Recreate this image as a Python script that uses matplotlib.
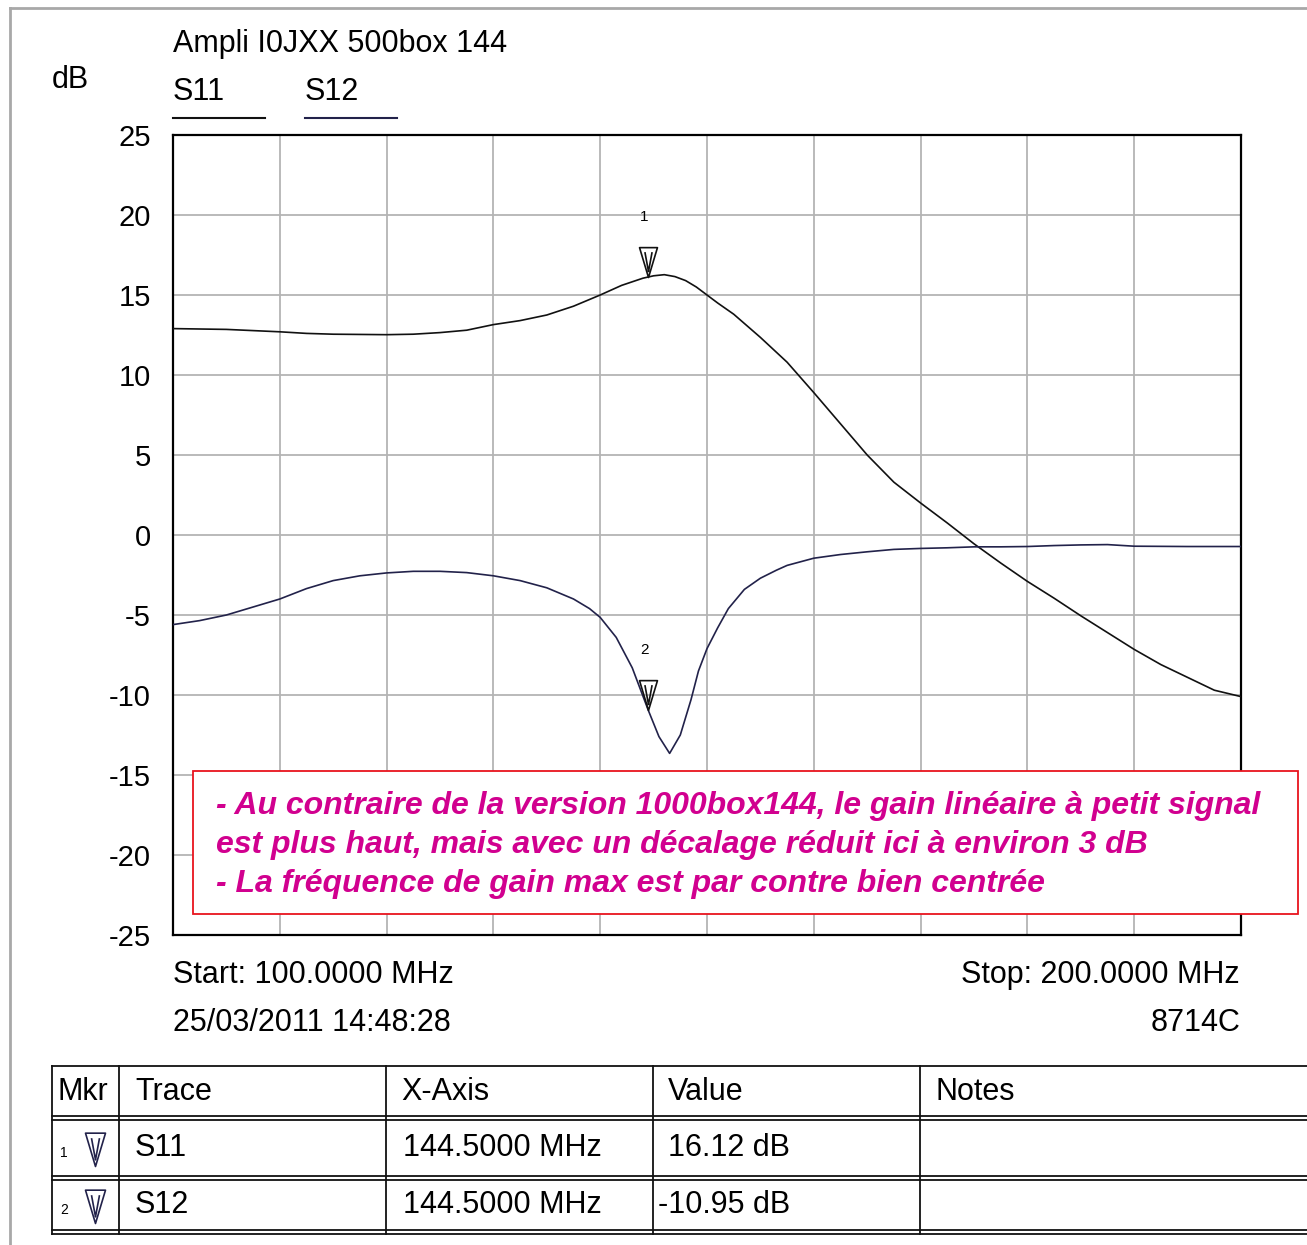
import matplotlib
matplotlib.use("Agg")
import matplotlib.pyplot as plt
from matplotlib.patches import Rectangle
from matplotlib.lines import Line2D
from matplotlib.path import Path

W, H = 1307, 1245

# S11 trace (dB)
freq_s11 = [100, 105, 110, 112.5, 115, 120, 122.5, 125, 127.5, 130, 132.5, 135,
            137.5, 140, 142, 144, 145, 146, 147, 148, 149, 150, 151, 152.5, 155,
            157.5, 160, 162.5, 165, 167.5, 170, 172.5, 175, 177.5, 180, 182.5,
            185, 187.5, 190, 192.5, 195, 197.5, 200]
s11_db = [12.9, 12.85, 12.7, 12.6, 12.55, 12.52, 12.55, 12.65, 12.8, 13.15, 13.4,
          13.75, 14.3, 15.0, 15.6, 16.05, 16.2, 16.27, 16.15, 15.9, 15.5, 15.0,
          14.5, 13.8, 12.35, 10.8, 8.9, 6.95, 5.0, 3.3, 2.0, 0.75, -0.55, -1.75,
          -2.9, -3.95, -5.05, -6.1, -7.15, -8.1, -8.9, -9.7, -10.1]

# S12 trace (dB)
freq_s12 = [100, 102.5, 105, 107.5, 110, 112.5, 115, 117.5, 120, 122.5, 125, 127.5,
            130, 132.5, 135, 137.5, 139, 140, 141.5, 143, 144.5, 145.5, 146.5,
            147.5, 148.5, 149.2, 150, 151, 152, 153.5, 155, 156.5, 157.5, 160,
            162.5, 165, 167.5, 170, 172.5, 175, 177.5, 180, 182.5, 185, 187.5,
            190, 195, 200]
s12_db = [-5.6, -5.35, -5.0, -4.5, -4.0, -3.35, -2.85, -2.55, -2.37, -2.27, -2.27,
          -2.35, -2.55, -2.85, -3.3, -4.0, -4.6, -5.15, -6.4, -8.3, -10.95, -12.6,
          -13.65, -12.5, -10.3, -8.5, -7.1, -5.8, -4.6, -3.4, -2.7, -2.2, -1.9,
          -1.45, -1.22, -1.05, -0.9, -0.84, -0.8, -0.74, -0.74, -0.72, -0.66,
          -0.62, -0.6, -0.7, -0.72, -0.72]

marker_ids = ["1", "2"]
marker_traces = ["S11", "S12"]
marker_freq = [144.5, 144.5]
marker_db = [16.12, -10.95]

y_ticks = [25, 20, 15, 10, 5, 0, -5, -10, -15, -20, -25]
x_grid = [100, 110, 120, 130, 140, 150, 160, 170, 180, 190, 200]

table_header = ["Mkr", "Trace", "X-Axis", "Value", "Notes"]

note_lines = [
    "- Au contraire de la version 1000box144, le gain linéaire à petit signal",
    "est plus haut, mais avec un décalage réduit ici à environ 3 dB",
    "- La fréquence de gain max est par contre bien centrée",
]

plt.rcParams["font.family"] = ["Liberation Sans", "DejaVu Sans"]
FS = 22


def fx(x):
    return x / W


def fy(y):
    return 1 - y / H


fig = plt.figure(figsize=(W / 100, H / 100), dpi=100)
fig.patch.set_facecolor("white")

# outer window frame
fig.add_artist(Line2D([fx(10), fx(W)], [fy(8), fy(8)], color="#a8a8a8", lw=2))
fig.add_artist(Line2D([fx(10), fx(10)], [fy(8), fy(H)], color="#a8a8a8", lw=2))

ax = fig.add_axes([fx(173), fy(935), 1068 / W, 800 / H])
ax.set_xlim(100, 200)
ax.set_ylim(-25, 25)
ax.set_xticks(x_grid)
ax.set_xticklabels([])
ax.set_yticks(y_ticks)
ax.set_yticklabels([str(t) for t in y_ticks], fontsize=21)
ax.tick_params(length=0, pad=16)
ax.grid(True, color="#b4b4b4", lw=1.3)
for sp in ax.spines.values():
    sp.set_linewidth(1.6)
    sp.set_color("black")

ax.plot(freq_s11, s11_db, color="#111111", lw=1.2, zorder=3)
ax.plot(freq_s12, s12_db, color="#22224a", lw=1.2, zorder=3)

# marker glyph: tip at the data point, open triangle above it
tri = Path([(-0.3, 1.0), (0.3, 1.0), (0.0, 0.0), (-0.3, 1.0),
            (-0.12, 0.85), (0.0, 0.2), (0.12, 0.85)],
           [Path.MOVETO, Path.LINETO, Path.LINETO, Path.CLOSEPOLY,
            Path.MOVETO, Path.LINETO, Path.LINETO])
for mid, f, v in zip(marker_ids, marker_freq, marker_db):
    ax.plot([f], [v], marker=tri, markersize=43, mfc="none", mec="#111111",
            mew=1.2, zorder=4)
    ax.annotate(mid, (f, v), xytext=(-3, 43), textcoords="offset points",
                ha="center", va="center", fontsize=11)

# header texts
fig.text(fx(173), fy(44), "Ampli I0JXX 500box 144", fontsize=FS, va="center")
fig.text(fx(52), fy(80), "dB", fontsize=FS, va="center")
fig.text(fx(173), fy(92), marker_traces[0], fontsize=FS, va="center")
fig.text(fx(305), fy(92), marker_traces[1], fontsize=FS, va="center")
fig.add_artist(Line2D([fx(173), fx(265)], [fy(118), fy(118)], color="#111111", lw=1.5))
fig.add_artist(Line2D([fx(305), fx(397)], [fy(118), fy(118)], color="#22224a", lw=1.5))

fig.text(fx(173), fy(975), f"Start: {x_grid[0]:.4f} MHz", fontsize=FS, va="center")
fig.text(fx(173), fy(1023), "25/03/2011 14:48:28", fontsize=FS, va="center")
fig.text(fx(1240), fy(975), f"Stop: {x_grid[-1]:.4f} MHz", fontsize=FS,
         va="center", ha="right")
fig.text(fx(1240), fy(1023), "8714C", fontsize=FS, va="center", ha="right")

# comment box
box = Rectangle((fx(193), fy(914)), (1298 - 193) / W, (914 - 771) / H,
                transform=fig.transFigure, facecolor="white", edgecolor="#e8141e",
                lw=1.3, zorder=5)
fig.add_artist(box)
for i, line in enumerate(note_lines):
    fig.text(fx(216), fy(806 + 39 * i), line, fontsize=23, fontweight="bold",
             fontstyle="italic", color="#d1008f", va="center", zorder=6)

# marker table
lc = "#111111"
for y in [1066, 1116, 1120, 1176, 1180, 1230, 1234]:
    fig.add_artist(Line2D([fx(52), fx(W)], [fy(y), fy(y)], color=lc, lw=1.3))
for x in [52, 119, 386, 653, 920]:
    fig.add_artist(Line2D([fx(x), fx(x)], [fy(1066), fy(1234)], color=lc, lw=1.3))

col_x = [57, 135, 401, 668, 935]
for cx, txt in zip(col_x, table_header):
    fig.text(fx(cx), fy(1092), txt, fontsize=FS, va="center")

row_y = [1148, 1205]
for ry, mid, tr, f, v in zip(row_y, marker_ids, marker_traces, marker_freq, marker_db):
    fig.text(fx(60), fy(ry + 5), mid, fontsize=10, va="center")
    fig.add_artist(Line2D([fx(95)], [fy(ry + 18)], transform=fig.transFigure,
                          marker=tri, markersize=48, mfc="none", mec="#22224a",
                          mew=1.2, linestyle="none"))
    fig.text(fx(135), fy(ry), tr, fontsize=FS, va="center")
    fig.text(fx(403), fy(ry), f"{f:.4f} MHz", fontsize=FS, va="center")
    fig.text(fx(668 if v >= 0 else 658), fy(ry), f"{v:.2f} dB", fontsize=FS, va="center")

fig.savefig("out.png", dpi=100)
